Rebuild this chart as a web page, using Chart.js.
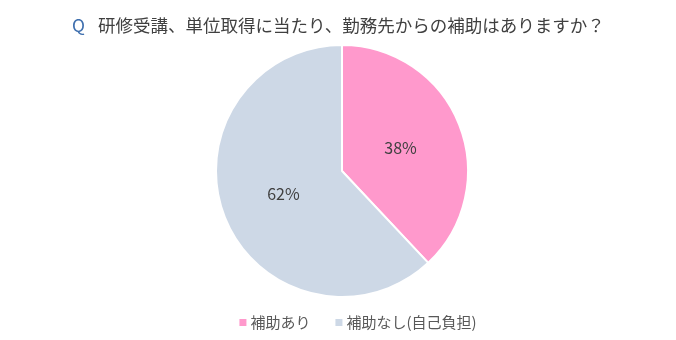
<!DOCTYPE html>
<html>
<head>
<meta charset="utf-8">
<script src="https://cdn.jsdelivr.net/npm/chart.js@4"></script>
<style>
  html, body { margin: 0; padding: 0; background: #fff; }
  #wrap { width: 676px; height: 340px; }
</style>
</head>
<body>
<div id="wrap"><canvas id="myChart" width="676" height="340"></canvas></div>
<script>
const labels = ['補助あり', '補助なし(自己負担)'];
const values = [38, 62];
const colors = ['#FF99CC', '#CDD8E6'];
const question = '研修受講、単位取得に当たり、勤務先からの補助はありますか？';

const FONT = "'Noto Sans CJK JP', 'Noto Sans', sans-serif";

// title with a coloured "Q" in front
const titlePlugin = {
    id: 'qTitle',
    afterDraw(chart) {
        const c = chart.ctx;
        c.save();
        c.textBaseline = 'middle';
        c.font = '17.5px ' + FONT;
        c.fillStyle = '#3F6FAE';
        c.fillText('Q', 72, 25);
        c.fillStyle = '#404040';
        c.fillText(question, 98, 25);
        c.restore();
    }
};

// percentage labels in the slices
const pctPlugin = {
    id: 'pct',
    afterDatasetsDraw(chart) {
        const c = chart.ctx;
        const meta = chart.getDatasetMeta(0);
        c.save();
        c.font = '16px ' + FONT;
        c.fillStyle = '#404040';
        c.textAlign = 'center';
        c.textBaseline = 'middle';
        meta.data.forEach(function (arc, i) {
            const p = arc.tooltipPosition();
            c.fillText(values[i] + '%', p.x, p.y);
        });
        c.restore();
    }
};

// legend under the pie, small squares with wide gaps
const legendPlugin = {
    id: 'qLegend',
    afterDraw(chart) {
        const c = chart.ctx;
        const ds = chart.data.datasets[0];
        const box = 7, gap = 4, spacing = 25, y = 322;
        c.save();
        c.font = '15px ' + FONT;
        c.textBaseline = 'middle';
        const widths = chart.data.labels.map(function (l) { return c.measureText(l).width; });
        let total = 0;
        widths.forEach(function (w, i) { total += box + gap + w + (i ? spacing : 0); });
        let x = 358 - total / 2;
        chart.data.labels.forEach(function (l, i) {
            c.fillStyle = ds.backgroundColor[i];
            c.fillRect(x, y - 3, box, box);
            c.fillStyle = '#595959';
            c.fillText(l, x + box + gap, y);
            x += box + gap + widths[i] + spacing;
        });
        c.restore();
    }
};

new Chart(document.getElementById('myChart'), {
    type: 'pie',
    data: {
        labels: labels,
        datasets: [{
            data: values,
            backgroundColor: colors,
            borderColor: '#ffffff',
            borderWidth: 2
        }]
    },
    options: {
        responsive: false,
        animation: false,
        layout: { padding: { top: 44, bottom: 42, left: 8, right: 0 } },
        plugins: {
            legend: { display: false },
            tooltip: { enabled: false }
        }
    },
    plugins: [titlePlugin, pctPlugin, legendPlugin]
});
</script>
</body>
</html>
